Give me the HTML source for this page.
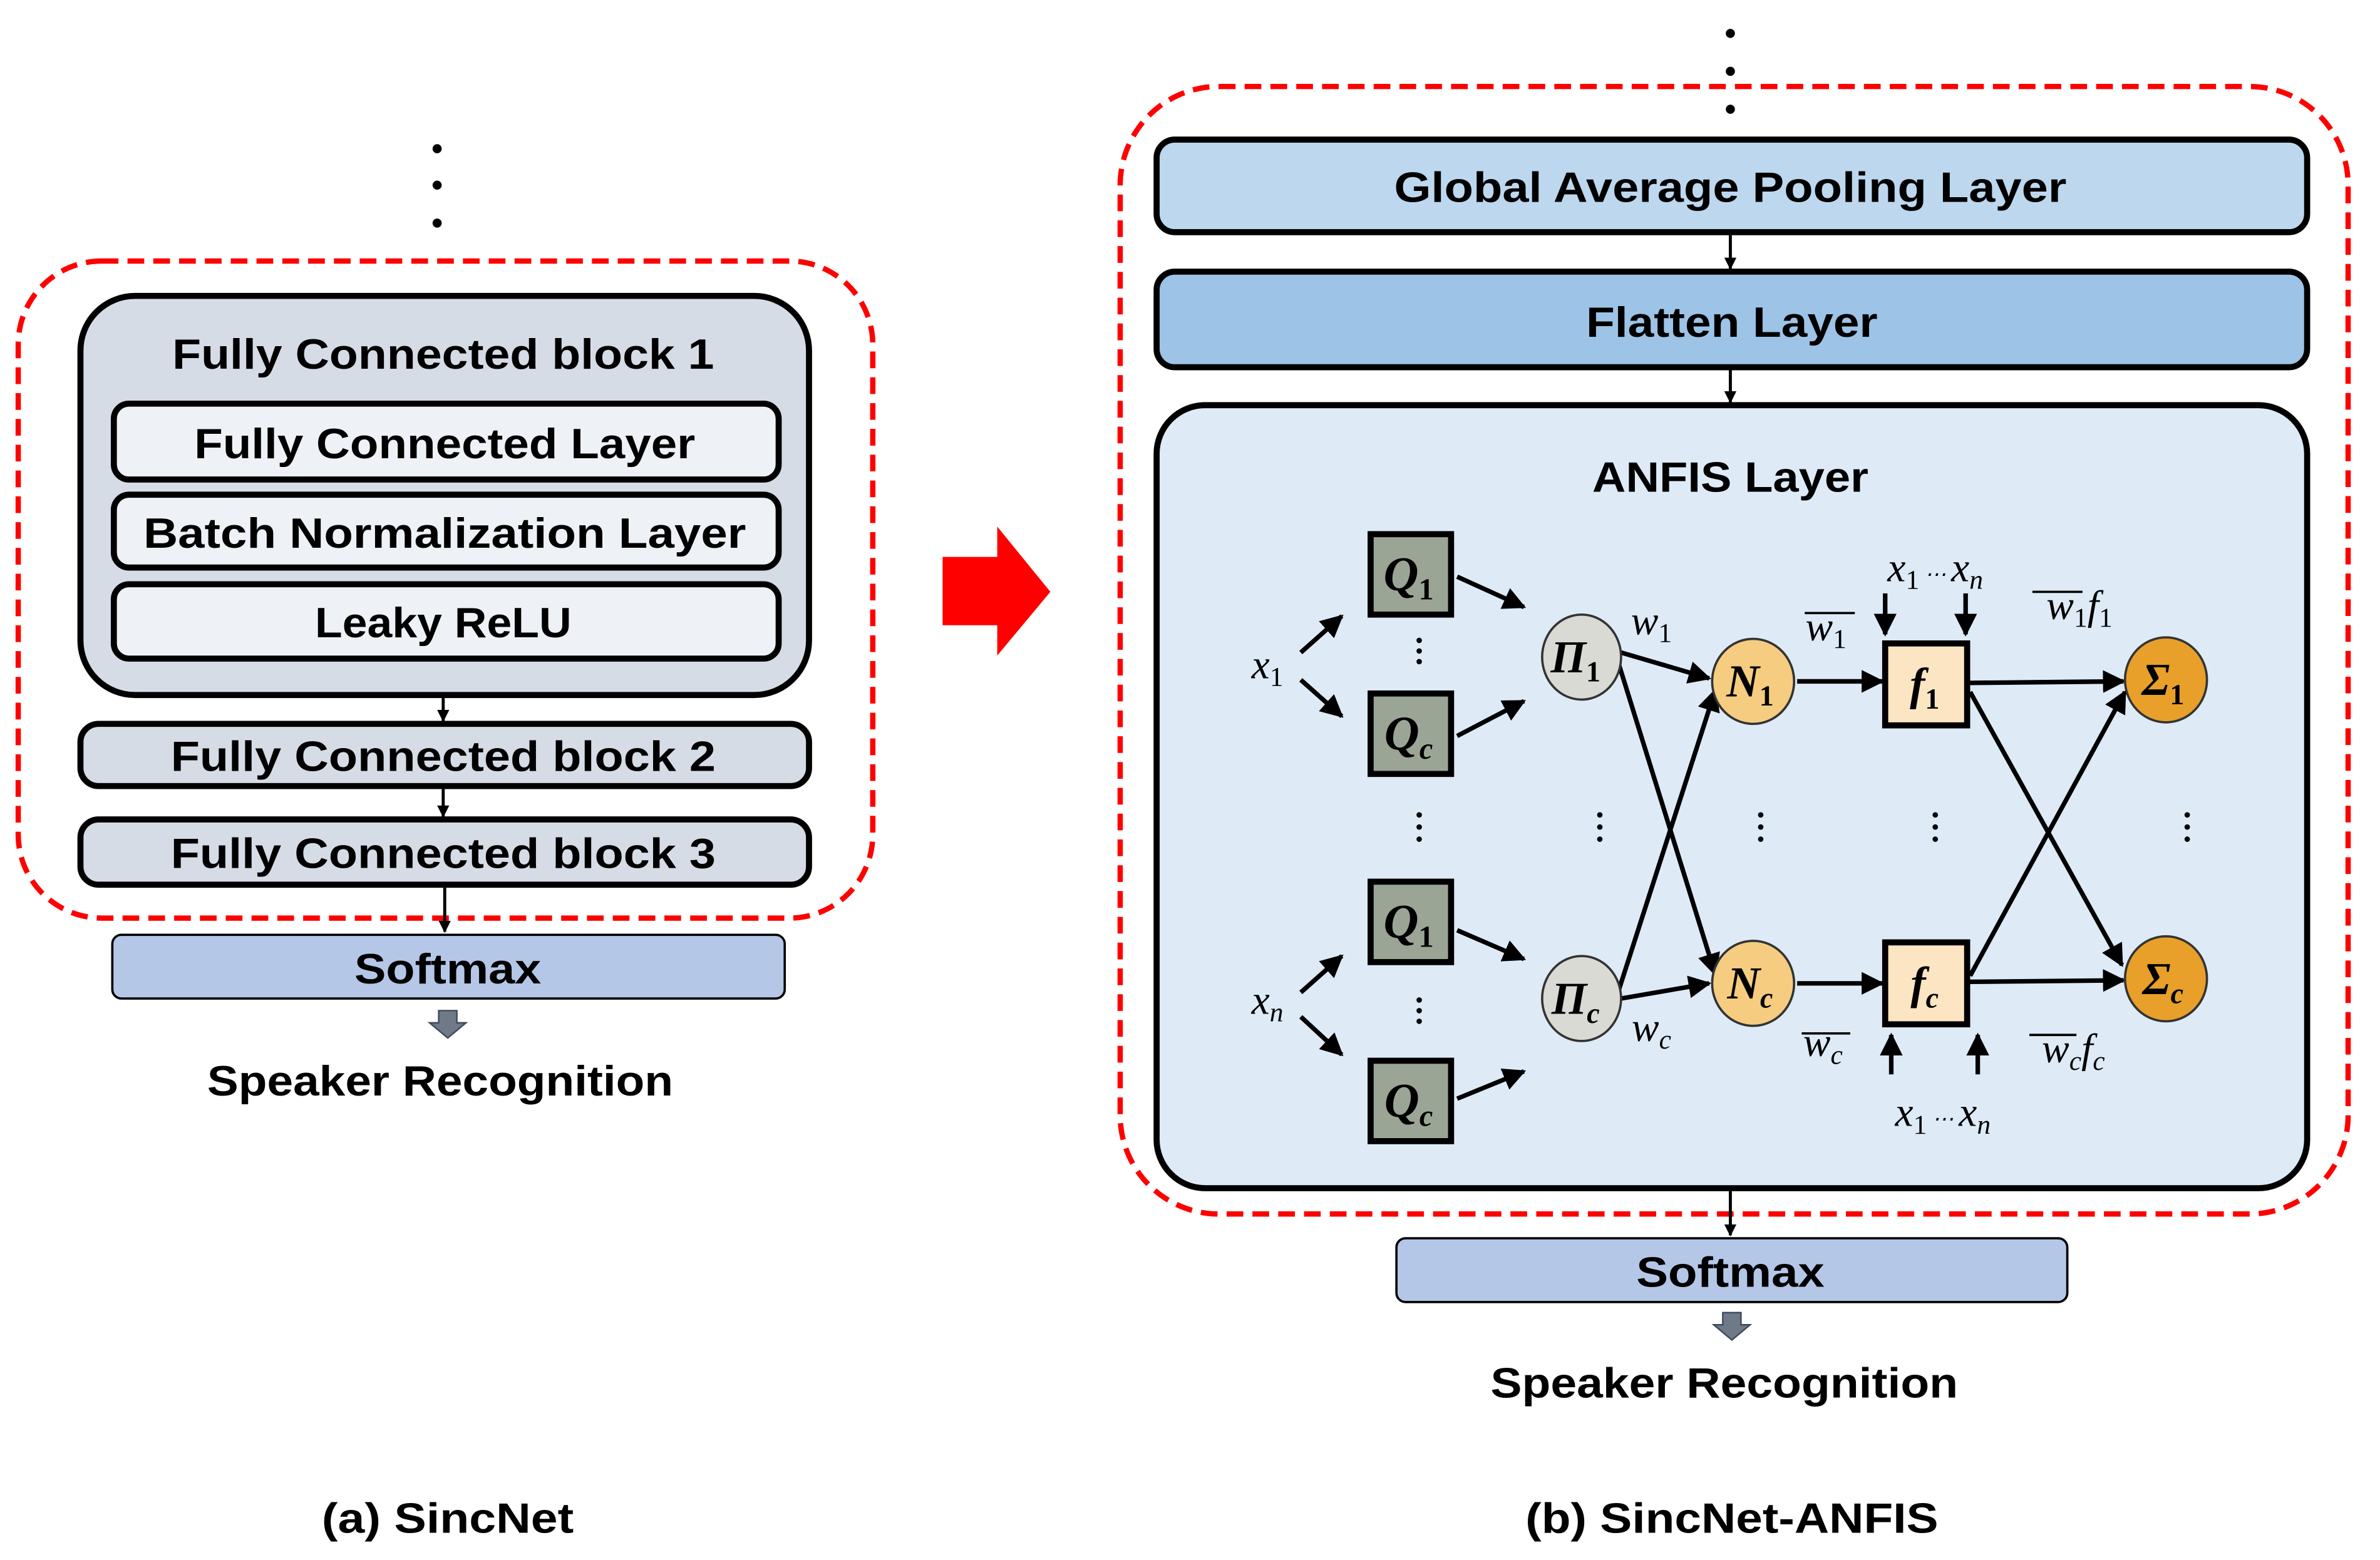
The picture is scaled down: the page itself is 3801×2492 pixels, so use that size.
<!DOCTYPE html>
<html><head><meta charset="utf-8"><style>
html,body{margin:0;padding:0;background:#fff;}
svg{display:block}
.t{font-family:"Liberation Sans",sans-serif;font-weight:bold;fill:#000;text-anchor:middle;}
.m{font-family:"Liberation Serif",serif;font-style:italic;font-weight:bold;fill:#000;text-anchor:middle;}
.mn{font-family:"Liberation Serif",serif;font-style:italic;fill:#000;text-anchor:middle;}
</style></head><body>
<svg width="3801" height="2492" viewBox="0 0 1568 1028" xmlns="http://www.w3.org/2000/svg">
<defs>
<marker id="a" viewBox="0 0 10 10" refX="9" refY="5" markerWidth="4" markerHeight="4" orient="auto"><path d="M0,0L10,5L0,10z" fill="#000"/></marker>
<marker id="s" viewBox="0 0 10 10" refX="9" refY="5" markerWidth="5" markerHeight="5" orient="auto"><path d="M0,0L10,5L0,10z" fill="#000"/></marker>
</defs>
<rect width="1568" height="1028" fill="#fff"/>
<!-- LEFT -->
<g fill="#000"><circle cx="288" cy="98" r="3"/><circle cx="288" cy="122" r="3"/><circle cx="288" cy="147" r="3"/></g>
<rect x="12" y="172" width="563" height="433" rx="55" fill="none" stroke="#f00" stroke-width="3.5" stroke-dasharray="11,6"/>
<rect x="53" y="195" width="480" height="263" rx="36" fill="#d6dce5" stroke="#000" stroke-width="4"/>
<text class="t" x="292" y="243" font-size="28" textLength="357" lengthAdjust="spacingAndGlyphs">Fully Connected block 1</text>
<rect x="75" y="266" width="438" height="50" rx="10" fill="#eef1f6" stroke="#000" stroke-width="4"/>
<text class="t" x="293" y="302" font-size="28" textLength="330" lengthAdjust="spacingAndGlyphs">Fully Connected Layer</text>
<rect x="75" y="326" width="438" height="48" rx="10" fill="#eef1f6" stroke="#000" stroke-width="4"/>
<text class="t" x="293" y="361" font-size="28" textLength="397" lengthAdjust="spacingAndGlyphs">Batch Normalization Layer</text>
<rect x="75" y="385" width="438" height="49" rx="10" fill="#eef1f6" stroke="#000" stroke-width="4"/>
<text class="t" x="292" y="420" font-size="28" textLength="169" lengthAdjust="spacingAndGlyphs">Leaky ReLU</text>
<line x1="292" y1="460" x2="292" y2="475" stroke="#000" stroke-width="2" marker-end="url(#a)"/>
<rect x="53" y="477" width="480" height="41" rx="12" fill="#d6dce5" stroke="#000" stroke-width="4"/>
<text class="t" x="292" y="508" font-size="28" textLength="359" lengthAdjust="spacingAndGlyphs">Fully Connected block 2</text>
<line x1="292" y1="520" x2="292" y2="538" stroke="#000" stroke-width="2" marker-end="url(#a)"/>
<rect x="53" y="540" width="480" height="43" rx="12" fill="#d6dce5" stroke="#000" stroke-width="4"/>
<text class="t" x="292" y="572" font-size="28" textLength="359" lengthAdjust="spacingAndGlyphs">Fully Connected block 3</text>
<line x1="293" y1="585" x2="293" y2="614" stroke="#000" stroke-width="2" marker-end="url(#a)"/>
<rect x="74" y="616" width="443" height="42" rx="6" fill="#b4c7e7" stroke="#000" stroke-width="1.5"/>
<text class="t" x="295" y="648" font-size="28" textLength="123" lengthAdjust="spacingAndGlyphs">Softmax</text>
<path d="M289,666h12v8h6l-12,10l-12,-10h6z" fill="#6f7a89" stroke="#3f4a5a" stroke-width="1"/>
<text class="t" x="290" y="722" font-size="28" textLength="307" lengthAdjust="spacingAndGlyphs">Speaker Recognition</text>
<text class="t" x="295" y="1010" font-size="28" textLength="166" lengthAdjust="spacingAndGlyphs">(a) SincNet</text>
<!-- RED ARROW -->
<path d="M621,367h36v-20l35,43l-35,42v-20h-36z" fill="#f00"/>
<!-- RIGHT -->
<g fill="#000"><circle cx="1140" cy="22" r="3"/><circle cx="1140" cy="47" r="3"/><circle cx="1140" cy="72" r="3"/></g>
<rect x="738" y="57" width="809" height="743" rx="65" fill="none" stroke="#f00" stroke-width="3.5" stroke-dasharray="11,6"/>
<rect x="762" y="92" width="758" height="61" rx="12" fill="#bdd7ee" stroke="#000" stroke-width="4"/>
<text class="t" x="1140" y="133" font-size="28" textLength="443" lengthAdjust="spacingAndGlyphs">Global Average Pooling Layer</text>
<line x1="1140" y1="155" x2="1140" y2="177" stroke="#000" stroke-width="2" marker-end="url(#a)"/>
<rect x="762" y="179" width="758" height="63" rx="12" fill="#9dc3e6" stroke="#000" stroke-width="4"/>
<text class="t" x="1141" y="222" font-size="28" textLength="192" lengthAdjust="spacingAndGlyphs">Flatten Layer</text>
<line x1="1140" y1="244" x2="1140" y2="265" stroke="#000" stroke-width="2" marker-end="url(#a)"/>
<rect x="762" y="267" width="758" height="516" rx="32" fill="#deebf7" stroke="#000" stroke-width="4"/>
<text class="t" x="1140" y="324" font-size="28" textLength="182" lengthAdjust="spacingAndGlyphs">ANFIS Layer</text>
<line x1="1140" y1="785" x2="1140" y2="814" stroke="#000" stroke-width="2" marker-end="url(#a)"/>
<rect x="920" y="816" width="442" height="42" rx="6" fill="#b4c7e7" stroke="#000" stroke-width="1.5"/>
<text class="t" x="1140" y="848" font-size="28" textLength="124" lengthAdjust="spacingAndGlyphs">Softmax</text>
<path d="M1135,865h12v8h6l-12,10l-12,-10h6z" fill="#6f7a89" stroke="#3f4a5a" stroke-width="1"/>
<text class="t" x="1136" y="921" font-size="28" textLength="308" lengthAdjust="spacingAndGlyphs">Speaker Recognition</text>
<text class="t" x="1141" y="1010" font-size="28" textLength="272" lengthAdjust="spacingAndGlyphs">(b) SincNet-ANFIS</text>
<!-- ANFIS network -->
<g fill="#9ba596" stroke="#000" stroke-width="4">
<rect x="903" y="352" width="53" height="53"/><rect x="903" y="457" width="53" height="53"/>
<rect x="903" y="581" width="53" height="53"/><rect x="903" y="699" width="53" height="53"/>
</g>
<g font-size="32" class="m">
<text x="928" y="389">Q<tspan font-size="20" dy="6" font-style="normal">1</tspan></text>
<text x="928" y="494">Q<tspan font-size="20" dy="6">c</tspan></text>
<text x="928" y="618">Q<tspan font-size="20" dy="6" font-style="normal">1</tspan></text>
<text x="928" y="736">Q<tspan font-size="20" dy="6">c</tspan></text>
</g>
<g fill="#000">
<circle cx="935" cy="422" r="1.8"/><circle cx="935" cy="429" r="1.8"/><circle cx="935" cy="436" r="1.8"/>
<circle cx="935" cy="659" r="1.8"/><circle cx="935" cy="666" r="1.8"/><circle cx="935" cy="673" r="1.8"/>
<g id="vd"><circle cx="935" cy="537" r="1.8"/><circle cx="935" cy="545" r="1.8"/><circle cx="935" cy="553" r="1.8"/></g>
<use href="#vd" x="119"/><use href="#vd" x="225"/><use href="#vd" x="340"/><use href="#vd" x="506"/>
</g>
<g class="mn" font-size="27">
<text x="835" y="447">x<tspan font-size="18" dy="5" font-style="normal">1</tspan></text>
<text x="835" y="668">x<tspan font-size="18" dy="5">n</tspan></text>
</g>
<g stroke="#000" stroke-width="3" fill="none" marker-end="url(#s)">
<line x1="857" y1="430" x2="884" y2="406"/><line x1="857" y1="448" x2="884" y2="472"/>
<line x1="857" y1="654" x2="884" y2="630"/><line x1="857" y1="670" x2="884" y2="695"/>
<line x1="960" y1="380" x2="1004" y2="400"/><line x1="960" y1="485" x2="1004" y2="462"/>
<line x1="960" y1="613" x2="1004" y2="632"/><line x1="960" y1="724" x2="1004" y2="706"/>
<line x1="1068" y1="430" x2="1126" y2="447"/><line x1="1066" y1="436" x2="1130" y2="642"/>
<line x1="1066" y1="654" x2="1130" y2="455"/><line x1="1068" y1="658" x2="1126" y2="648"/>
<line x1="1184" y1="449" x2="1240" y2="449"/><line x1="1184" y1="648" x2="1240" y2="648"/>
<line x1="1298" y1="450" x2="1399" y2="449"/><line x1="1298" y1="456" x2="1398" y2="636"/>
<line x1="1298" y1="643" x2="1400" y2="456"/><line x1="1298" y1="647" x2="1399" y2="646"/>
<line x1="1242" y1="391" x2="1242" y2="418"/><line x1="1295" y1="391" x2="1295" y2="418"/>
<line x1="1246" y1="708" x2="1246" y2="682"/><line x1="1303" y1="708" x2="1303" y2="682"/>
</g>
<g stroke="#333" stroke-width="1.5">
<ellipse cx="1042" cy="433" rx="26" ry="28" fill="#dadad4"/>
<ellipse cx="1042" cy="658" rx="26" ry="28" fill="#dadad4"/>
<ellipse cx="1155" cy="449" rx="27" ry="28" fill="#f5cc80"/>
<ellipse cx="1155" cy="648" rx="27" ry="28" fill="#f5cc80"/>
<ellipse cx="1427" cy="448" rx="27" ry="28" fill="#e8a02a"/>
<ellipse cx="1427" cy="645" rx="27" ry="28" fill="#e8a02a"/>
</g>
<rect x="1242" y="424" width="54" height="54" fill="#fbe5c2" stroke="#000" stroke-width="4"/>
<rect x="1242" y="621" width="54" height="54" fill="#fbe5c2" stroke="#000" stroke-width="4"/>
<g class="m" font-size="30">
<text x="1038" y="443">Π<tspan font-size="19" dy="6" font-style="normal">1</tspan></text>
<text x="1038" y="668">Π<tspan font-size="19" dy="6">c</tspan></text>
<text x="1153" y="459">N<tspan font-size="19" dy="6" font-style="normal">1</tspan></text>
<text x="1153" y="658">N<tspan font-size="19" dy="6">c</tspan></text>
<text x="1268" y="461">f<tspan font-size="19" dy="6" font-style="normal">1</tspan></text>
<text x="1268" y="658">f<tspan font-size="19" dy="6">c</tspan></text>
<text x="1425" y="458">Σ<tspan font-size="19" dy="6" font-style="normal">1</tspan></text>
<text x="1425" y="655">Σ<tspan font-size="19" dy="6">c</tspan></text>
</g>
<g class="mn" font-size="27">
<text x="1088" y="418">w<tspan font-size="18" dy="5" font-style="normal">1</tspan></text>
<text x="1088" y="686">w<tspan font-size="18" dy="5">c</tspan></text>
<text x="1203" y="422">w<tspan font-size="18" dy="5" font-style="normal">1</tspan></text>
<text x="1201" y="696">w<tspan font-size="18" dy="5">c</tspan></text>
<text x="1275" y="383">x<tspan font-size="18" dy="5" font-style="normal">1</tspan><tspan font-size="14" dy="-5"> ⋯ </tspan>x<tspan font-size="18" dy="5">n</tspan></text>
<text x="1280" y="742">x<tspan font-size="18" dy="5" font-style="normal">1</tspan><tspan font-size="14" dy="-5"> ⋯ </tspan>x<tspan font-size="18" dy="5">n</tspan></text>
<text x="1370" y="408">w<tspan font-size="18" dy="5" font-style="normal">1</tspan><tspan dy="-5">f</tspan><tspan font-size="18" dy="5" font-style="normal">1</tspan></text>
<text x="1366" y="700">w<tspan font-size="18" dy="5">c</tspan><tspan dy="-5">f</tspan><tspan font-size="18" dy="5">c</tspan></text>
</g>
<g stroke="#000" stroke-width="1.5">
<line x1="1189" y1="404" x2="1222" y2="404"/><line x1="1187" y1="681" x2="1219" y2="681"/>
<line x1="1339" y1="390" x2="1372" y2="390"/><line x1="1337" y1="682" x2="1368" y2="682"/>
</g>
</svg>
</body></html>
